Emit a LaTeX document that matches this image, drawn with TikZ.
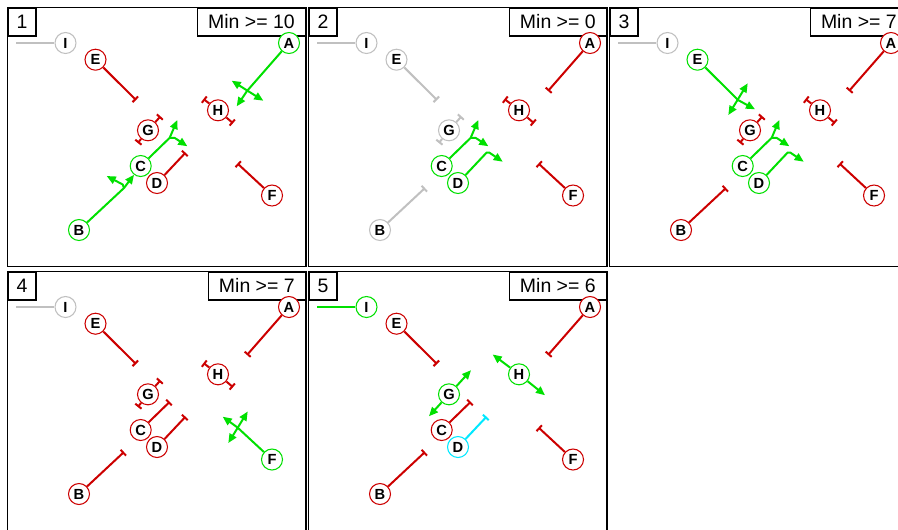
\documentclass[tikz,border=0pt]{standalone}
\usepackage{fontspec}
\setmainfont{Liberation Sans}
\usetikzlibrary{arrows.meta}
\definecolor{cRed}{RGB}{204,0,0}
\definecolor{cGreen}{RGB}{0,224,0}
\definecolor{cGray}{RGB}{192,192,192}
\definecolor{cCyan}{RGB}{0,232,255}
\tikzset{
  panelbox/.style={draw=black, line width=1.1pt},
  labbox/.style={draw=black, line width=1.1pt, fill=white, inner sep=0pt, minimum height=20.8pt, font=\fontsize{14.6}{16}\selectfont},
  numbox/.style={labbox, minimum width=21pt},
  minbox/.style={labbox, inner xsep=7.9pt},
  sig/.style={circle, line width=0.8pt, fill=white, minimum size=15.75pt, inner sep=0pt, font=\fontsize{11}{12}\selectfont\bfseries},
  flow/.style={line width=1.5pt},
  stopline/.style={flow, -{Bar[width=6pt]}},
  goline/.style={flow, line join=miter, -{Triangle[length=6.8pt,width=5.8pt]}},
  gotwo/.style={flow, {Triangle[length=6.8pt,width=5.8pt]}-{Triangle[length=6.8pt,width=5.8pt]}},
}
\newcommand\panelbase[2]{%
  \draw[panelbox] (7.3,7.3) rectangle (306,266.7);
  \node[numbox, anchor=north west] (num) at (7.3,7.3) {#1};
  \node[minbox, anchor=north east] (min) at (306,7.3) {#2};
  \coordinate (sI) at (16,43);
  \coordinate (sE) at (136,100);
  \coordinate (tE) at (153,109.3);
  \coordinate (xE1) at (145.7,83.3);
  \coordinate (xE2) at (126.3,115);
  \coordinate (sA) at (247,91);
  \coordinate (tA) at (236.7,106.3);
  \coordinate (xA1) at (231.7,80.7);
  \coordinate (xA2) at (263.3,100.7);
  \coordinate (sF) at (237.5,163.5);
  \coordinate (tF) at (222.7,152.7);
  \coordinate (xF1) at (247.7,147.5);
  \coordinate (xF2) at (228.3,179);
  \coordinate (sB) at (124,188);
  \coordinate (bB) at (122.7,184.5);
  \coordinate (tB) at (106.7,176);
  \coordinate (sC) at (169.7,137.8);
  \coordinate (bC) at (174.5,137.8);
  \coordinate (tC) at (177.3,120);
  \coordinate (uC) at (187.3,146.2);
  \coordinate (sD) at (185.5,152.7);
  \coordinate (bD) at (188.5,152.7);
  \coordinate (tD) at (201.7,161.7);
  \coordinate (Hb1) at (203.5,99);
  \coordinate (Hb2) at (233,123.2);
  \coordinate (Ha1) at (191.7,90.5);
  \coordinate (Ha2) at (244,131.2);
  \coordinate (Gb1) at (160.5,116.3);
  \coordinate (Gb2) at (137.8,143);
  \coordinate (Ga1) at (170,106.2);
  \coordinate (Ga2) at (128,152.2);
}
\newcommand\signodes[9]{%
  \node[sig, draw=#1] (I) at (65.5,43) {I};
  \node[sig, draw=#2] (E) at (95.5,59.7) {E};
  \node[sig, draw=#3] (A) at (289,43) {A};
  \node[sig, draw=#4] (H) at (218,110.3) {H};
  \node[sig, draw=#5] (G) at (148,130.3) {G};
  \node[sig, draw=#6] (C) at (140.7,166) {C};
  \node[sig, draw=#7] (D) at (157,183) {D};
  \node[sig, draw=#8] (F) at (272,195.5) {F};
  \node[sig, draw=#9] (B) at (79,230) {B};
}
\newcommand\iline[1]{\draw[flow,#1] (sI) -- (I);}
\newcommand\stopat[2]{\draw[stopline,#1] (#2) -- (s#2);}
\newcommand\pedstop[2]{\draw[stopline,#1] (#2) -- (#2b1); \draw[stopline,#1] (#2) -- (#2b2);}
\newcommand\pedgo[1]{\draw[goline,cGreen] (#1) -- (#1a1); \draw[goline,cGreen] (#1) -- (#1a2);}
\newcommand\gocross[1]{\draw[goline,cGreen] (#1) -- (s#1) -- (t#1); \draw[gotwo,cGreen] (x#11) -- (x#12);}
\newcommand\goB{\draw[goline,cGreen] (B) -- (sB) -- (C); \draw[goline,cGreen] (sB) -- (bB) -- (tB);}
\newcommand\goC{\draw[goline,cGreen] (C) -- (sC) -- (tC); \draw[goline,cGreen] (sC) -- (bC) -- (uC);}
\newcommand\goD{\draw[goline,cGreen] (D) -- (sD) -- (bD) -- (tD);}
\begin{document}
\begin{tikzpicture}[x=0.75pt,y=-0.75pt]
\useasboundingbox (0,0) rectangle (898,529);
\clip (0,0) rectangle (898,529);
% panel 1
\begin{scope}[name prefix=p1-]
  \panelbase{1}{Min >= 10}
  \signodes{cGray}{cRed}{cGreen}{cRed}{cRed}{cGreen}{cRed}{cRed}{cGreen}
  \iline{cGray}
  \stopat{cRed}{E}
  \gocross{A}
  \pedstop{cRed}{H}
  \pedstop{cRed}{G}
  \goC
  \stopat{cRed}{D}
  \stopat{cRed}{F}
  \goB
\end{scope}
% panel 2
\begin{scope}[shift={(301,0)}, name prefix=p2-]
  \panelbase{2}{Min >= 0}
  \signodes{cGray}{cGray}{cRed}{cRed}{cGray}{cGreen}{cGreen}{cRed}{cGray}
  \iline{cGray}
  \stopat{cGray}{E}
  \stopat{cRed}{A}
  \pedstop{cRed}{H}
  \pedstop{cGray}{G}
  \goC
  \goD
  \stopat{cRed}{F}
  \stopat{cGray}{B}
\end{scope}
% panel 3
\begin{scope}[shift={(602,0)}, name prefix=p3-]
  \panelbase{3}{Min >= 7}
  \signodes{cGray}{cGreen}{cRed}{cRed}{cRed}{cGreen}{cGreen}{cRed}{cRed}
  \iline{cGray}
  \gocross{E}
  \stopat{cRed}{A}
  \pedstop{cRed}{H}
  \pedstop{cRed}{G}
  \goC
  \goD
  \stopat{cRed}{F}
  \stopat{cRed}{B}
\end{scope}
% panel 4
\begin{scope}[shift={(0,264)}, name prefix=p4-]
  \panelbase{4}{Min >= 7}
  \signodes{cGray}{cRed}{cRed}{cRed}{cRed}{cRed}{cRed}{cGreen}{cRed}
  \iline{cGray}
  \stopat{cRed}{E}
  \stopat{cRed}{A}
  \pedstop{cRed}{H}
  \pedstop{cRed}{G}
  \stopat{cRed}{C}
  \stopat{cRed}{D}
  \gocross{F}
  \stopat{cRed}{B}
\end{scope}
% panel 5
\begin{scope}[shift={(301,264)}, name prefix=p5-]
  \panelbase{5}{Min >= 6}
  \signodes{cGreen}{cRed}{cRed}{cGreen}{cGreen}{cRed}{cCyan}{cRed}{cRed}
  \iline{cGreen}
  \stopat{cRed}{E}
  \stopat{cRed}{A}
  \pedgo{H}
  \pedgo{G}
  \stopat{cRed}{C}
  \stopat{cCyan}{D}
  \stopat{cRed}{F}
  \stopat{cRed}{B}
\end{scope}
\end{tikzpicture}
\end{document}
